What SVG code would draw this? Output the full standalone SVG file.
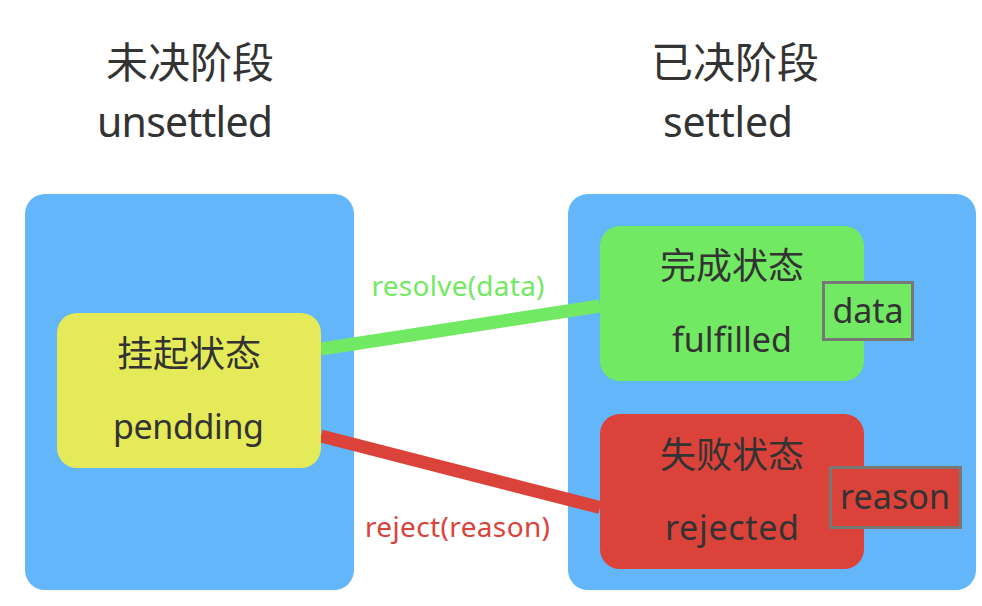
<svg xmlns="http://www.w3.org/2000/svg" width="982" height="606" viewBox="0 0 982 606">
<style>
.t{font-family:"Noto Sans","Noto Sans CJK SC",sans-serif;fill:#333;text-anchor:middle}
.c{font-family:"Noto Sans CJK SC","Noto Sans",sans-serif;fill:#333;text-anchor:middle}
.stage{fill:#62b6f9}
.lbl{font-family:"Noto Sans",sans-serif;text-anchor:middle;font-size:28px}
</style>
<rect width="982" height="606" fill="#fff"/>
<g id="title-unsettled">
<text class="c" x="190" y="78" font-size="42">未决阶段</text>
<text class="t" x="185" y="137" font-size="41" textLength="176">unsettled</text>
</g>
<g id="title-settled">
<text class="c" x="735" y="78" font-size="42">已决阶段</text>
<text class="t" x="728" y="137" font-size="41" textLength="130">settled</text>
</g>
<g id="stage-unsettled"><rect class="stage" x="25" y="194" width="329" height="396" rx="20"/></g>
<g id="stage-settled"><rect class="stage" x="568" y="194" width="408" height="396" rx="20"/></g>
<g id="connectors">
<line x1="321" y1="349" x2="600" y2="306" stroke="#72e962" stroke-width="13"/>
<line x1="321" y1="436" x2="600" y2="507.5" stroke="#db423a" stroke-width="13"/>
<text class="lbl" x="458" y="296" fill="#72e962" textLength="173">resolve(data)</text>
<text class="lbl" x="457.5" y="537" fill="#db423a" textLength="185">reject(reason)</text>
</g>
<g id="pending">
<rect x="57" y="313" width="264" height="155" rx="20" fill="#e5eb58"/>
<text class="c" x="189" y="367" font-size="36">挂起状态</text>
<text class="t" x="188.5" y="439" font-size="34" textLength="151">pendding</text>
</g>
<g id="fulfilled">
<rect x="600" y="226" width="264" height="155" rx="20" fill="#72e962"/>
<text class="c" x="732" y="279" font-size="36">完成状态</text>
<text class="t" x="732" y="352" font-size="34" textLength="120">fulfilled</text>
</g>
<g id="rejected">
<rect x="600" y="414" width="264" height="155" rx="20" fill="#db423a"/>
<text class="c" x="732" y="468" font-size="36">失败状态</text>
<text class="t" x="732" y="540" font-size="34" textLength="134">rejected</text>
</g>
<g id="data">
<rect x="823.5" y="282.5" width="89" height="57" fill="#72e962" stroke="#777" stroke-width="3"/>
<text class="t" x="868" y="323" font-size="34" textLength="71">data</text>
</g>
<g id="reason">
<rect x="830.5" y="467.5" width="130" height="60" fill="#db423a" stroke="#777" stroke-width="3"/>
<text class="t" x="895" y="509" font-size="34" textLength="110">reason</text>
</g>
</svg>
